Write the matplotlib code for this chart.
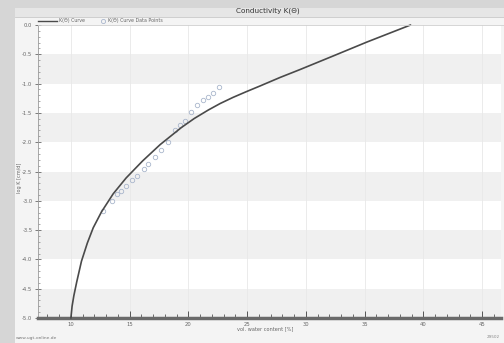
import matplotlib
matplotlib.use("Agg")
import matplotlib.pyplot as plt
from matplotlib.patches import Rectangle
from matplotlib.lines import Line2D
import numpy as np

# ---- data ----
curve_theta = [10.0, 10.1, 10.25, 10.5, 10.9, 11.4, 11.9, 12.6, 13.6, 14.7, 16.1, 17.6,
               19.4, 20.5, 21.7, 22.7, 23.8, 24.9, 26.1, 27.8, 29.5, 32.3, 35.2, 38.9]
curve_logk = [-5.0, -4.80, -4.62, -4.38, -4.03, -3.72, -3.46, -3.19, -2.88, -2.61, -2.32,
              -2.04, -1.75, -1.595, -1.45, -1.34, -1.235, -1.14, -1.04, -0.895, -0.76,
              -0.53, -0.29, 0.0]
pts_theta = [12.75, 13.47, 13.9, 14.3, 14.7, 15.2, 15.6, 16.2, 16.6, 17.15, 17.7, 18.3,
             18.9, 19.3, 19.7, 20.2, 20.7, 21.2, 21.7, 22.1, 22.6]
pts_logk = [-3.17, -3.00, -2.88, -2.83, -2.74, -2.65, -2.57, -2.45, -2.37, -2.25, -2.14,
            -2.00, -1.80, -1.71, -1.63, -1.48, -1.37, -1.28, -1.23, -1.16, -1.06]
x_ticks = [10, 15, 20, 25, 30, 35, 40, 45]
y_ticks = [0.0, -0.5, -1.0, -1.5, -2.0, -2.5, -3.0, -3.5, -4.0, -4.5, -5.0]
legend_labels = ['K(Θ) Curve', 'K(Θ) Curve Data Points']

W, H = 504, 343
fig = plt.figure(figsize=(W / 100, H / 100), dpi=100)
fig.patch.set_facecolor('#d6d6d6')

def fx(px):
    return px / W

def fy(py):
    return 1 - py / H

# panel
fig.patches.append(Rectangle((fx(15), 0), 1 - fx(15), fy(8), transform=fig.transFigure,
                             facecolor='#f4f4f4', edgecolor='none', zorder=-2))
fig.patches.append(Rectangle((fx(15), fy(17)), 1 - fx(15), fy(8) - fy(17),
                             transform=fig.transFigure, facecolor='#e6e6e6',
                             edgecolor='none', zorder=-1))
fig.lines.append(Line2D([fx(15), 1], [fy(17), fy(17)], transform=fig.transFigure,
                        color='#c8c8c8', lw=0.6, zorder=-1))

ax = fig.add_axes([fx(38), fy(318), fx(501) - fx(38), fy(25) - fy(318)])
ax.set_facecolor('white')
ax.set_xlim(7.2, 46.6)
ax.set_ylim(-5.0, 0.0)

# bands
for lo in [-1.0, -2.0, -3.0, -4.0, -5.0]:
    ax.axhspan(lo, lo + 0.5, color='#f0f0f0', lw=0, zorder=0)
for xt in x_ticks:
    ax.axvline(xt, color='#e8e8e8', lw=0.6, zorder=0.5)

ax.plot(pts_theta, pts_logk, linestyle='none', marker='o', ms=3.2, mfc='none',
        mec='#a9b6cc', mew=0.6, zorder=2, clip_on=False)
ax.plot(curve_theta, curve_logk, color='#4a4a4a', lw=1.2, zorder=3, clip_on=False,
        solid_joinstyle='round', solid_capstyle='round')

ax.set_xticks(x_ticks)
ax.set_xticklabels([str(v) for v in x_ticks])
ax.set_xticks(np.arange(8, 47, 1), minor=True)
ax.set_yticks(y_ticks)
ax.set_yticklabels([f"{v:.1f}" for v in y_ticks])
ax.set_yticks(np.arange(-5.0, 0.01, 0.1), minor=True)

ax.tick_params(axis='x', which='major', direction='in', length=5, width=0.7,
               colors='#555555', labelsize=3.8, labelcolor='#666666', pad=3)
ax.tick_params(axis='x', which='minor', direction='in', length=3, width=0.6,
               colors='#555555')
ax.tick_params(axis='y', which='major', direction='inout', length=4, width=0.6,
               colors='#666666', labelsize=3.8, labelcolor='#666666', pad=2)
ax.tick_params(axis='y', which='minor', direction='in', length=1.5, width=0.5,
               colors='#888888')

for s in ['top', 'right']:
    ax.spines[s].set_visible(False)
ax.spines['bottom'].set_color('#6a6a6a')
ax.spines['bottom'].set_linewidth(2.5)
ax.spines['left'].set_color('#999999')
ax.spines['left'].set_linewidth(0.6)
fig.lines.append(Line2D([fx(38), 1], [fy(25), fy(25)], transform=fig.transFigure,
                        color='#cfcfcf', lw=0.6))

# title, labels
fig.text(fx(268), fy(11), 'Conductivity K(Θ)', ha='center', va='center',
         fontsize=5.2, color='#333333')
fig.text(fx(20), fy(178), 'log K [cm/d]', rotation=90, ha='center', va='center',
         fontsize=3.6, color='#666666')
fig.text(fx(265), fy(329), 'vol. water content [%]', ha='center', va='center',
         fontsize=3.6, color='#666666')
fig.text(fx(16), fy(338), 'www.ugt-online.de', ha='left', va='center',
         fontsize=3.2, color='#777777')
fig.text(fx(500), fy(337), '29502', ha='right', va='center',
         fontsize=3.0, color='#888888')

# legend (manual layout)
ly = fy(20.5)
fig.lines.append(Line2D([fx(38), fx(57)], [ly, ly], transform=fig.transFigure,
                        color='#4a4a4a', lw=1.0))
fig.text(fx(59), ly, legend_labels[0], ha='left', va='center', fontsize=3.4,
         color='#666666')
fig.lines.append(Line2D([fx(103)], [ly], transform=fig.transFigure, linestyle='none',
                        marker='o', ms=3, mfc='none', mec='#a9b6cc', mew=0.6))
fig.text(fx(108), ly, legend_labels[1], ha='left', va='center', fontsize=3.4,
         color='#666666')

fig.savefig('out.png', dpi=100, facecolor=fig.get_facecolor())
